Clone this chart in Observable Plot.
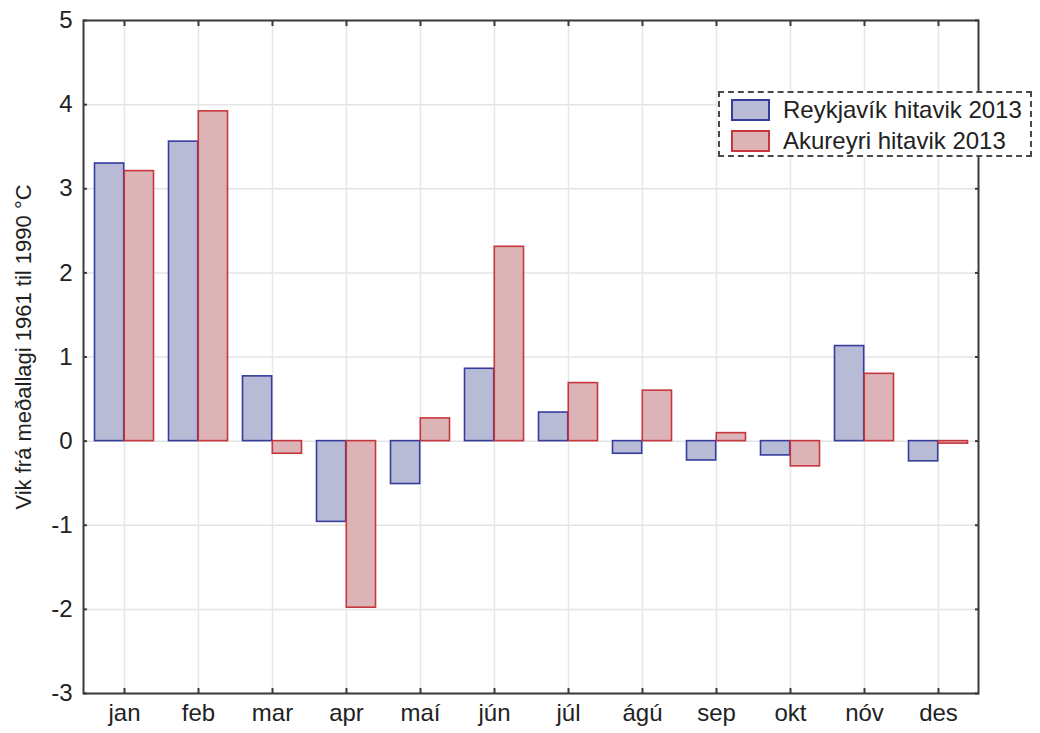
<!DOCTYPE html>
<html>
<head>
<meta charset="utf-8">
<script src="https://cdn.jsdelivr.net/npm/d3@7"></script>
<script src="https://cdn.jsdelivr.net/npm/@observablehq/plot@0.6"></script>
<style>
  body { margin: 0; background: #fff; }
  #wrap { position: relative; width: 1040px; height: 733px; font-family: "Liberation Sans", Arial, sans-serif; }
  #legend { position: absolute; left: 718px; top: 91px; width: 314px; height: 66px; border: 2px dashed #4a4a4a; box-sizing: border-box; background: #fff; color: #222; font-size: 24px; }
  .item { position: absolute; left: 11px; height: 24px; display: flex; align-items: center; }
  .sw { width: 39px; height: 22px; box-sizing: border-box; border: 2px solid; margin-right: 13px; }
  .lab { white-space: nowrap; line-height: 24px; }
</style>
</head>
<body>
<div id="wrap">
  <div id="chart"></div>
  <div id="legend"></div>
</div>
<script>
const months = ["jan","feb","mar","apr","maí","jún","júl","ágú","sep","okt","nóv","des"];
const reykjavik = [3.30, 3.56, 0.77, -0.96, -0.51, 0.86, 0.34, -0.15, -0.23, -0.17, 1.13, -0.24];
const akureyri  = [3.21, 3.92, -0.15, -1.98, 0.27, 2.31, 0.69, 0.60, 0.095, -0.30, 0.80, -0.03];
const yTicks = [-3, -2, -1, 0, 1, 2, 3, 4, 5];
const seriesNames = ["Reykjavík hitavik 2013", "Akureyri hitavik 2013"];
const yLabel = "Vik frá meðallagi 1961 til 1990 °C";

const blueFill = "#b8bbd6", blueStroke = "#363c9c";
const redFill = "#dcb4b7", redStroke = "#c8363d";

const W = 1040, H = 733, mL = 83, mR = 62, mT = 20, mB = 40;
const bw = (W - mL - mR) / months.length;
const outer = 7.5;

const dataR = months.map((m, i) => ({month: m, value: reykjavik[i]}));
const dataA = months.map((m, i) => ({month: m, value: akureyri[i]}));

const plot = Plot.plot({
  width: W, height: H,
  marginLeft: mL, marginRight: mR, marginTop: mT, marginBottom: mB,
  style: {fontFamily: "'Liberation Sans', Arial, sans-serif", fontSize: "24px", color: "#222", background: "#fff"},
  x: {domain: months, padding: 0, label: null},
  y: {domain: [-3, 5], label: null},
  marks: [
    Plot.gridY({ticks: yTicks, stroke: "#e4e4e4", strokeOpacity: 1, strokeWidth: 1.5}),
    Plot.gridX({stroke: "#e8e8e8", strokeOpacity: 1, strokeWidth: 1.5}),
    Plot.barY(dataR, {x: "month", y1: 0, y2: "value", fill: blueFill, stroke: blueStroke, strokeWidth: 1.6, insetLeft: outer, insetRight: bw / 2}),
    Plot.barY(dataA, {x: "month", y1: 0, y2: "value", fill: redFill, stroke: redStroke, strokeWidth: 1.6, insetLeft: bw / 2, insetRight: outer}),
    Plot.frame({stroke: "#3a3a3a", strokeWidth: 2}),
    Plot.axisY({ticks: yTicks, tickSize: 0, tickPadding: 11, label: null, fontSize: 24, tickFormat: d => String(d)}),
    Plot.axisX({tickSize: 0, tickPadding: 10, label: null, fontSize: 24}),
    Plot.axisX({anchor: "bottom", tickSize: -5, tickFormat: () => "", label: null, stroke: "#3a3a3a", strokeWidth: 2}),
    Plot.axisX({anchor: "top", tickSize: -5, tickFormat: () => "", label: null, stroke: "#3a3a3a", strokeWidth: 2}),
    Plot.axisY({anchor: "left", ticks: yTicks, tickSize: -4, tickFormat: () => "", label: null, stroke: "#3a3a3a", strokeWidth: 2}),
    Plot.axisY({anchor: "right", ticks: yTicks, tickSize: -4, tickFormat: () => "", label: null, stroke: "#3a3a3a", strokeWidth: 2}),
    Plot.text([yLabel], {text: d => d, frameAnchor: "left", textAnchor: "middle", rotate: -90, dx: -60, dy: -10, fontSize: 22, fill: "#222"})
  ]
});
document.getElementById("chart").appendChild(plot);

const legend = document.getElementById("legend");
[[seriesNames[0], blueFill, blueStroke, 5], [seriesNames[1], redFill, redStroke, 36]].forEach(([name, f, s, top]) => {
  const it = document.createElement("div");
  it.className = "item";
  it.style.top = top + "px";
  const sw = document.createElement("div");
  sw.className = "sw";
  sw.style.background = f;
  sw.style.borderColor = s;
  const lab = document.createElement("span");
  lab.className = "lab";
  lab.textContent = name;
  it.appendChild(sw); it.appendChild(lab);
  legend.appendChild(it);
});
</script>
</body>
</html>
